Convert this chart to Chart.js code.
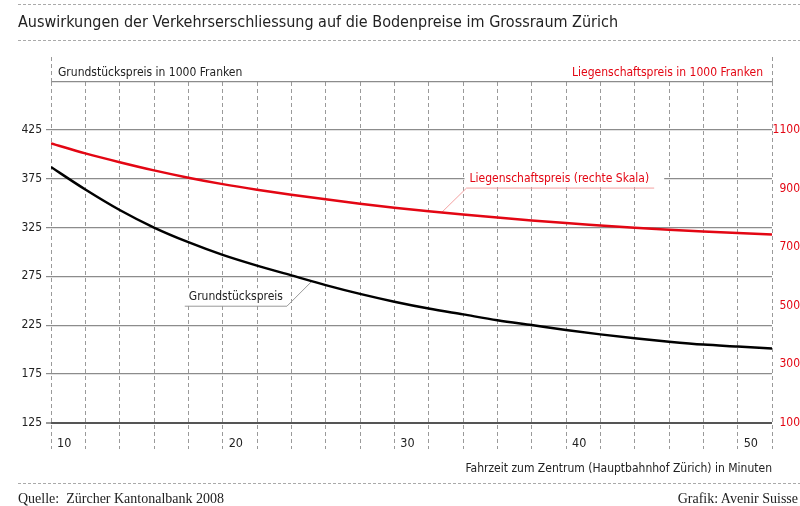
<!DOCTYPE html>
<html lang="de">
<head>
<meta charset="UTF-8">
<title>Auswirkungen der Verkehrserschliessung auf die Bodenpreise im Grossraum Zürich</title>
<script src="https://cdn.jsdelivr.net/npm/chart.js"></script>
<style>
  body { margin: 0; background: #fff; }
  .page {
    position: relative; width: 800px; height: 506px; overflow: hidden;
    font-family: 'Liberation Sans Narrow', 'DejaVu Sans Condensed', sans-serif; color: #222;
  }
  canvas { position: absolute; left: 0; top: 0; }
  .title { position: absolute; left: 18px; top: 12px; font-size: 16px; line-height: 20px; white-space: nowrap; }
  .note { position: absolute; top: 64px; font-size: 12px; line-height: 16px; white-space: nowrap; }
  .note.left { left: 58px; }
  .note.right { right: 37px; color: #e30613; }
  .foot {
    position: absolute; top: 491px; font-family: 'Liberation Serif', 'DejaVu Serif', serif;
    font-size: 14px; line-height: 16px; white-space: pre; color: #222;
  }
  .foot.left { left: 18px; }
  .foot.right { right: 2px; }
</style>
</head>
<body>
<div class="page">
  <canvas id="chart" width="800" height="506"></canvas>
  <div class="title">Auswirkungen der Verkehrserschliessung auf die Bodenpreise im Grossraum Zürich</div>
  <div class="note left">Grundstückspreis in 1000 Franken</div>
  <div class="note right">Liegenschaftspreis in 1000 Franken</div>
  <div class="foot left">Quelle:  Zürcher Kantonalbank 2008</div>
  <div class="foot right">Grafik: Avenir Suisse</div>
</div>

<script>
// Fahrzeit in Minuten
const minuten = [10, 12, 14, 16, 18, 20, 22, 24, 26, 28, 30, 32, 34, 36, 38, 40, 42, 44, 46, 48, 50, 52];
// Grundstückspreis (linke Skala, 1000 Fr.)
const grundstueck = [387, 364, 343, 325, 310, 297, 286, 276, 266, 257, 249, 242, 236, 230, 225, 220, 215.5, 211.5, 208, 205, 203, 201];
// Liegenschaftspreis (rechte Skala, 1000 Fr.)
const liegenschaft = [1054, 1020, 990, 962, 937, 915, 896, 879, 863, 848, 834, 822, 811, 801, 791, 782, 774, 766, 759, 753, 748, 743];

const linksTicks = [125, 175, 225, 275, 325, 375, 425];
const rechtsTicks = [100, 300, 500, 700, 900, 1100];
const xLabels = [10, 20, 30, 40, 50];

const labelGrund = 'Grundstückspreis';
const labelLieg = 'Liegenschaftspreis (rechte Skala)';
const xTitle = 'Fahrzeit zum Zentrum (Hauptbahnhof Zürich) in Minuten';

// Skalen: linke Achse 125..425 entspricht rechter Achse 100..1100
const linksMin = 98, linksMax = 474.2;
const toRechts = v => 100 + (v - 125) * 1000 / 300;

const ROT = '#e30613';
const FONT = "'Liberation Sans Narrow', 'DejaVu Sans Condensed', sans-serif";
Chart.defaults.font.family = FONT;
Chart.defaults.color = '#222';

function valueAt(xs, ys, x) {
  for (let i = 0; i < xs.length - 1; i++) {
    if (x >= xs[i] && x <= xs[i + 1]) {
      const t = (x - xs[i]) / (xs[i + 1] - xs[i]);
      return ys[i] + t * (ys[i + 1] - ys[i]);
    }
  }
  return ys[ys.length - 1];
}

const decor = {
  id: 'decor',
  beforeDatasetsDraw(chart) {
    const { ctx, chartArea, scales } = chart;
    const x = scales.x, y = scales.y, y1 = scales.y1;
    ctx.save();
    // Randlinien nach oben verlängern
    ctx.strokeStyle = '#999';
    ctx.lineWidth = 1;
    ctx.setLineDash([4, 3]);
    [minuten[0], minuten[minuten.length - 1]].forEach(m => {
      const px = Math.round(x.getPixelForValue(m)) + 0.5;
      ctx.beginPath();
      ctx.moveTo(px, chartArea.top);
      ctx.lineTo(px, chartArea.top - 25);
      ctx.stroke();
    });
    ctx.setLineDash([]);

    ctx.font = '12px ' + FONT;
    ctx.textBaseline = 'middle';

    // Beschriftung Grundstückspreis
    const gx = x.getPixelForValue(25.2);
    const gy = y.getPixelForValue(valueAt(minuten, grundstueck, 25.2));
    const ex = gx - 25, ey = gy + 25;
    const gw = ctx.measureText(labelGrund).width;
    ctx.fillStyle = '#fff';
    ctx.fillRect(ex - gw - 8, ey - 18, gw + 6, 15);
    ctx.strokeStyle = '#999';
    ctx.lineWidth = 1;
    ctx.beginPath();
    ctx.moveTo(gx, gy);
    ctx.lineTo(ex, ey);
    ctx.lineTo(ex - gw - 8, ey);
    ctx.stroke();
    ctx.fillStyle = '#222';
    ctx.textAlign = 'right';
    ctx.fillText(labelGrund, ex - 4, ey - 9.5);

    // Beschriftung Liegenschaftspreis
    const lx = x.getPixelForValue(32.75);
    const ly = y1.getPixelForValue(valueAt(minuten, liegenschaft, 32.75));
    const fx = lx + 25, fy = ly - 24.5;
    const lw = ctx.measureText(labelLieg).width;
    ctx.fillStyle = '#fff';
    ctx.fillRect(fx - 2, fy - 18, lw + 20, 15);
    ctx.strokeStyle = '#f3a0a0';
    ctx.beginPath();
    ctx.moveTo(lx, ly);
    ctx.lineTo(fx, fy);
    ctx.lineTo(fx + lw + 8, fy);
    ctx.stroke();
    ctx.fillStyle = ROT;
    ctx.textAlign = 'left';
    ctx.fillText(labelLieg, fx + 3, fy - 9.5);
    ctx.restore();
  },
  afterDraw(chart) {
    const { ctx } = chart;
    ctx.save();
    ctx.strokeStyle = '#aaa';
    ctx.lineWidth = 1;
    ctx.setLineDash([3, 2]);
    [4.5, 40.5, 483.5].forEach(py => {
      ctx.beginPath();
      ctx.moveTo(18, py);
      ctx.lineTo(800, py);
      ctx.stroke();
    });
    ctx.restore();
  }
};

new Chart(document.getElementById('chart'), {
  type: 'line',
  data: {
    datasets: [
      {
        label: labelGrund,
        data: minuten.map((m, i) => ({ x: m, y: grundstueck[i] })),
        borderColor: '#000',
        borderWidth: 2.5,
        pointRadius: 0,
        cubicInterpolationMode: 'monotone',
        yAxisID: 'y'
      },
      {
        label: labelLieg,
        data: minuten.map((m, i) => ({ x: m, y: liegenschaft[i] })),
        borderColor: ROT,
        borderWidth: 2.5,
        pointRadius: 0,
        cubicInterpolationMode: 'monotone',
        yAxisID: 'y1'
      }
    ]
  },
  options: {
    responsive: false,
    devicePixelRatio: 1,
    animation: false,
    layout: { padding: { top: 82, left: 0, right: 0, bottom: 0 } },
    plugins: { legend: { display: false }, tooltip: { enabled: false } },
    scales: {
      x: {
        type: 'linear',
        min: 10,
        max: 52,
        afterFit: s => { s.height = 57; },
        ticks: {
          stepSize: 2,
          autoSkip: false,
          maxRotation: 0,
          align: 'start',
          labelOffset: 6,
          mirror: true,
          padding: -2,
          font: { size: 12.5 },
          color: '#222',
          callback: v => xLabels.includes(v) ? String(v) : ''
        },
        grid: { color: '#9a9a9a', lineWidth: 1, drawTicks: false },
        border: { display: false, dash: [4, 3] },
        title: {
          display: true,
          text: xTitle,
          align: 'end',
          color: '#222',
          font: { size: 12 },
          padding: { top: 0, bottom: 30 }
        }
      },
      y: {
        position: 'left',
        min: linksMin,
        max: linksMax,
        afterFit: s => { s.width = 51; },
        afterBuildTicks: s => { s.ticks = linksTicks.concat([linksMax]).map(v => ({ value: v })); },
        ticks: {
          padding: 4,
          font: { size: 12 },
          color: '#222',
          callback: v => linksTicks.includes(v) ? String(v) : ''
        },
        grid: {
          tickLength: 5,
          color: c => c.tick.value === 125 ? '#555' : '#8c8c8c',
          lineWidth: c => c.tick.value === 125 ? 2 : 1.2,
          tickColor: c => c.tick.value === linksMax ? 'rgba(0,0,0,0)' : (c.tick.value === 125 ? '#555' : '#8c8c8c'),
          tickWidth: 1.2
        },
        border: { display: false }
      },
      y1: {
        position: 'right',
        min: toRechts(linksMin),
        max: toRechts(linksMax),
        afterFit: s => { s.width = 28; },
        afterBuildTicks: s => { s.ticks = rechtsTicks.map(v => ({ value: v })); },
        ticks: {
          padding: 1,
          crossAlign: 'far',
          font: { size: 12 },
          color: ROT,
          callback: v => String(v)
        },
        grid: { drawOnChartArea: false, drawTicks: false },
        border: { display: false }
      }
    }
  },
  plugins: [decor]
});
</script>
</body>
</html>
